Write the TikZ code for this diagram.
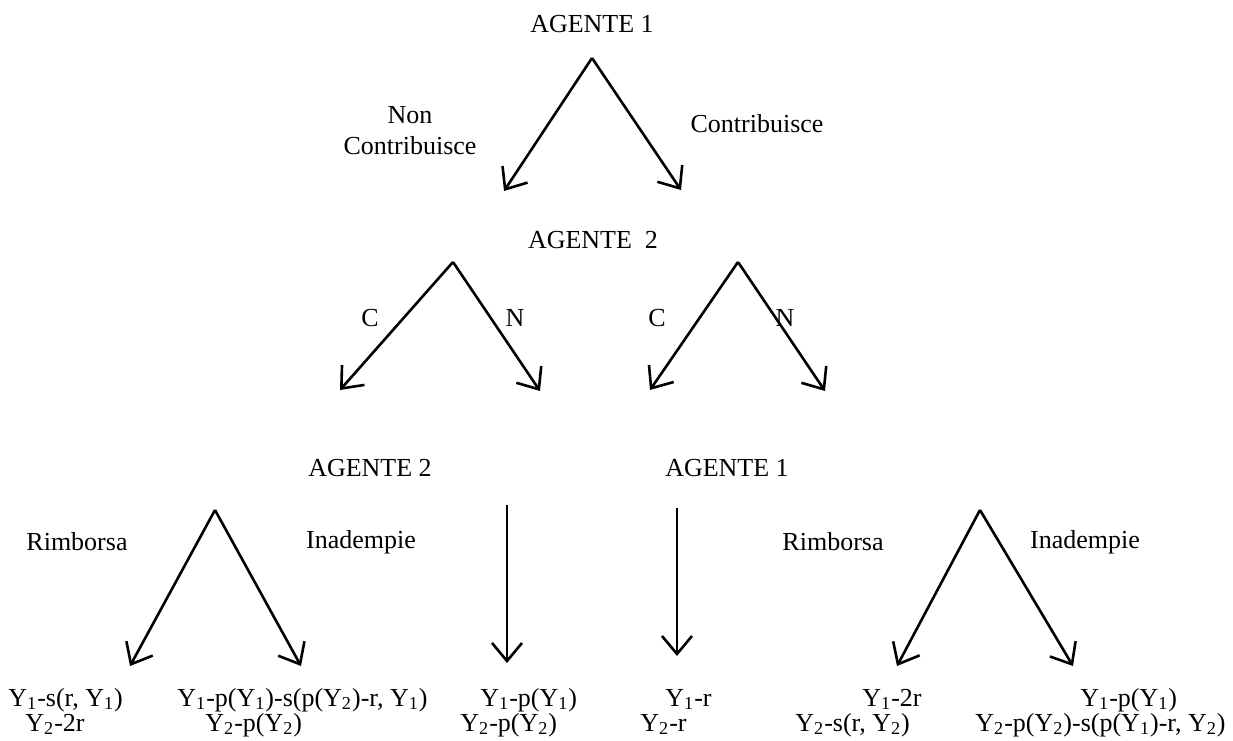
\documentclass[tikz,border=0pt]{standalone}
\usepackage{fontspec}
\setmainfont{Liberation Serif}
\usetikzlibrary{arrows.meta}
\newcommand{\Ya}{Y\textsubscript{1}}
\newcommand{\Yb}{Y\textsubscript{2}}

\begin{document}
\begin{tikzpicture}[x=0.5pt, y=-0.5pt,
  every node/.style={font=\fontsize{13}{15.6}\selectfont, inner sep=0pt},
  move/.style={line width=1.3pt, -{Straight Barb[length=9pt, width=15pt]}},
  pay/.style={anchor=base west}]
\useasboundingbox (0,0) rectangle (1233,740);

% first move
\node (ag1) at (592,24) {AGENTE 1};
\coordinate (r) at (592,58);
\coordinate (nc) at (504,191);
\coordinate (co) at (681,190);
\draw[move] (r) -- (nc);
\draw[move] (r) -- (co);
\node[align=center] (lnc) at (410,131) {Non\\Contribuisce};
\node (lco) at (757,124) {Contribuisce};

% second move
\node (ag2) at (593,240) {AGENTE \ 2};
\coordinate (a) at (453,262);
\coordinate (b) at (738,262);
\coordinate (ac) at (340,390);
\coordinate (an) at (540,391);
\coordinate (bc) at (650,390);
\coordinate (bn) at (825,391);
\draw[move] (a) -- (ac);
\draw[move] (a) -- (an);
\draw[move] (b) -- (bc);
\draw[move] (b) -- (bn);
\node (lac) at (370,318) {C};
\node (lan) at (515,318) {N};
\node (lbc) at (657,318) {C};
\node (lbn) at (785,318) {N};

% third move
\node (ag2b) at (370,468) {AGENTE 2};
\node (ag1b) at (727,468) {AGENTE 1};
\coordinate (c) at (215,510);
\coordinate (cr) at (130,666);
\coordinate (ci) at (301,666);
\coordinate (d) at (980,510);
\coordinate (dr) at (897,666);
\coordinate (di) at (1073,666);
\coordinate (e) at (507,505);
\coordinate (ee) at (507,663);
\coordinate (f) at (677,508);
\coordinate (ff) at (677,656);
\draw[move] (c) -- (cr);
\draw[move] (c) -- (ci);
\draw[move] (d) -- (dr);
\draw[move] (d) -- (di);
\draw[move] (e) -- (ee);
\draw[move] (f) -- (ff);
\node (lcr) at (77,542) {Rimborsa};
\node (lci) at (361,542) {Inadempie};
\node (ldr) at (833,542) {Rimborsa};
\node (ldi) at (1085,542) {Inadempie};

% payoffs
\node[pay] (p1a) at (8,706) {\Ya-s(r, \Ya)};
\node[pay] (p1b) at (25,731) {\Yb-2r};
\node[pay] (p2a) at (177,706) {\Ya-p(\Ya)-s(p(\Yb)-r, \Ya)};
\node[pay] (p2b) at (205,731) {\Yb-p(\Yb)};
\node[pay] (p3a) at (480,706) {\Ya-p(\Ya)};
\node[pay] (p3b) at (460,731) {\Yb-p(\Yb)};
\node[pay] (p4a) at (665,706) {\Ya-r};
\node[pay] (p4b) at (640,731) {\Yb-r};
\node[pay] (p5a) at (862,706) {\Ya-2r};
\node[pay] (p5b) at (795,731) {\Yb-s(r, \Yb)};
\node[pay] (p6a) at (1080,706) {\Ya-p(\Ya)};
\node[pay] (p6b) at (975,731) {\Yb-p(\Yb)-s(p(\Ya)-r, \Yb)};
\end{tikzpicture}
\end{document}
